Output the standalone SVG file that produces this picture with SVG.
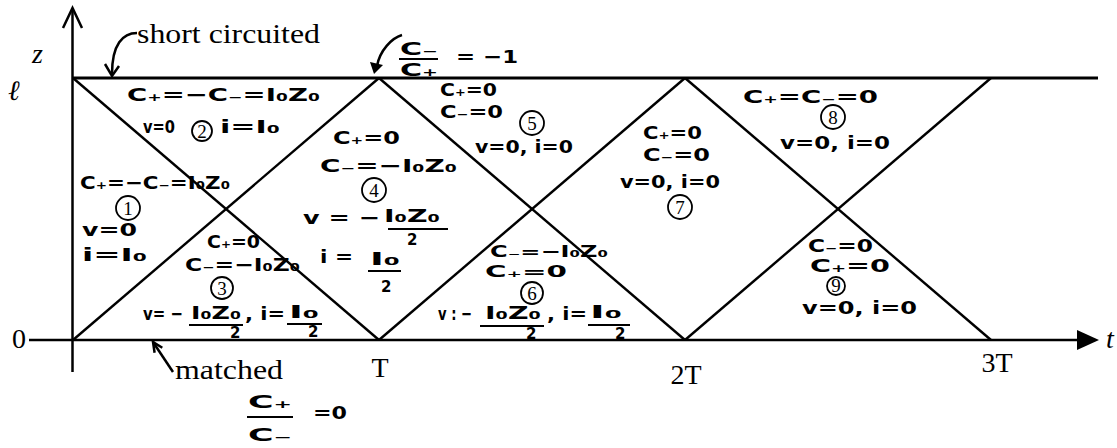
<svg xmlns="http://www.w3.org/2000/svg" width="1117" height="448" viewBox="0 0 1117 448">
<style>
.ax{stroke:#000;stroke-width:2.5;fill:none}
.top{stroke:#000;stroke-width:3.2;fill:none}
.ch{stroke:#000;stroke-width:2.4;fill:none}
.pr{font-family:"Liberation Serif","Times New Roman",serif;font-size:28px;fill:#000}
.it{font-style:italic}
.hw{font-family:"DejaVu Sans","Liberation Sans",sans-serif;font-weight:bold;font-size:18px;fill:#000}
.sm{font-size:16px}
.dn{font-size:15px}
.num{font-family:"Liberation Serif",serif;font-size:19px;fill:#000;text-anchor:middle}
.cn{fill:none;stroke:#000;stroke-width:1.8}
.fl{stroke:#000;stroke-width:2.2;fill:none}
.mid{text-anchor:middle}
</style>
<rect width="1117" height="448" fill="#fff"/>

<g id="axes">
  <path class="ax" d="M72.5,8 L72.5,372"/>
  <path class="ax" d="M63,28 L72.5,8 L82,28"/>
  <path class="top" d="M72,78 L1098,78"/>
  <path class="ax" d="M29,340 L1080,340"/>
  <path d="M1077,330 L1099,340 L1077,350 Z" fill="#000"/>
  <text class="pr it" x="32" y="63">z</text>
  <text class="pr it" x="8" y="100">ℓ</text>
  <text class="pr" x="12" y="348">0</text>
  <text class="pr it" x="1106" y="348">t</text>
  <text class="pr mid" x="380" y="377">T</text>
  <text class="pr mid" x="686" y="384">2T</text>
  <text class="pr mid" x="997" y="372">3T</text>
</g>

<g id="connectors">
  <path class="ch" d="M73,78 L379,340"/>
  <path class="ch" d="M73,340 L379,78"/>
  <path class="ch" d="M379,78 L685,340"/>
  <path class="ch" d="M379,340 L685,78"/>
  <path class="ch" d="M685,78 L991,340"/>
  <path class="ch" d="M685,340 L991,78"/>
</g>

<g id="short-circuited">
  <text class="pr" x="137" y="43" textLength="183" lengthAdjust="spacingAndGlyphs">short circuited</text>
  <path class="ax" d="M137,33 C123,33 112,44 112,74"/>
  <path class="ax" d="M105,64 L112,76 L119,66"/>
</g>

<g id="matched">
  <text class="pr" x="175" y="379" textLength="108" lengthAdjust="spacingAndGlyphs">matched</text>
  <path class="ax" d="M173,372 L153,342"/>
  <path class="ax" d="M154.6,352.8 L153,342 L162.3,347.7"/>
</g>

<g id="top-ratio">
  <path class="ax" d="M402,35 C392,38 380,50 377,66"/>
  <path d="M370,62 L374,74 L383,65 Z" fill="#000"/>
  <text class="hw" x="400" y="55" textLength="38" lengthAdjust="spacingAndGlyphs">C₋</text>
  <path class="fl" d="M399,59 L438,59"/>
  <text class="hw" x="400" y="76" textLength="38" lengthAdjust="spacingAndGlyphs">C₊</text>
  <text class="hw" x="456" y="63" font-size="22" textLength="62" lengthAdjust="spacingAndGlyphs">= −1</text>
</g>

<g id="bottom-ratio">
  <text class="hw" x="248" y="408" textLength="44" lengthAdjust="spacingAndGlyphs">C₊</text>
  <path class="fl" d="M247,417 L293,417"/>
  <text class="hw" x="248" y="441" textLength="44" lengthAdjust="spacingAndGlyphs">C₋</text>
  <text class="hw" x="313" y="419" textLength="34" lengthAdjust="spacingAndGlyphs">=0</text>
</g>

<g id="region1">
  <text class="hw" x="80" y="189" textLength="150" lengthAdjust="spacingAndGlyphs">C₊=−C₋=I₀Z₀</text>
  <circle class="cn" cx="128" cy="208" r="12"/>
  <text class="num" x="128" y="215">1</text>
  <text class="hw" x="82" y="236" textLength="55" lengthAdjust="spacingAndGlyphs">v=0</text>
  <text class="hw" x="82" y="261" textLength="65" lengthAdjust="spacingAndGlyphs">i=I₀</text>
</g>

<g id="region2">
  <text class="hw" x="127" y="101" textLength="193" lengthAdjust="spacingAndGlyphs">C₊=−C₋=I₀Z₀</text>
  <text class="hw" x="143" y="133" textLength="32" lengthAdjust="spacingAndGlyphs">v=0</text>
  <circle class="cn" cx="202" cy="131" r="10"/>
  <text class="num" x="202" y="138">2</text>
  <text class="hw" x="220" y="133" textLength="60" lengthAdjust="spacingAndGlyphs">i=I₀</text>
</g>

<g id="region3">
  <text class="hw" x="207" y="248" textLength="53" lengthAdjust="spacingAndGlyphs">C₊=0</text>
  <text class="hw" x="185" y="271" textLength="115" lengthAdjust="spacingAndGlyphs">C₋=−I₀Z₀</text>
  <circle class="cn" cx="222" cy="288" r="11"/>
  <text class="num" x="222" y="295">3</text>
  <text class="hw" x="143" y="320" textLength="40" lengthAdjust="spacingAndGlyphs">v= −</text>
  <text class="hw" x="191" y="319" textLength="50" lengthAdjust="spacingAndGlyphs">I₀Z₀</text>
  <path class="fl" d="M189,325 L243,325"/>
  <text class="hw dn" x="230" y="338">2</text>
  <text class="hw" x="245" y="320" textLength="40" lengthAdjust="spacingAndGlyphs">, i=</text>
  <text class="hw" x="289" y="318" textLength="30" lengthAdjust="spacingAndGlyphs">I₀</text>
  <path class="fl" d="M287,324 L322,324"/>
  <text class="hw dn" x="308" y="337">2</text>
</g>

<g id="region4">
  <text class="hw" x="333" y="144" textLength="67" lengthAdjust="spacingAndGlyphs">C₊=0</text>
  <text class="hw" x="320" y="172" textLength="137" lengthAdjust="spacingAndGlyphs">C₋=−I₀Z₀</text>
  <circle class="cn" cx="374" cy="190" r="12"/>
  <text class="num" x="374" y="197">4</text>
  <text class="hw" x="303" y="224" textLength="77" lengthAdjust="spacingAndGlyphs">v = −</text>
  <text class="hw" x="384" y="222" textLength="56" lengthAdjust="spacingAndGlyphs">I₀Z₀</text>
  <path class="fl" d="M388,229 L448,229"/>
  <text class="hw dn" x="407" y="245">2</text>
  <text class="hw" x="320" y="263" textLength="33" lengthAdjust="spacingAndGlyphs">i =</text>
  <text class="hw" x="370" y="265" textLength="30" lengthAdjust="spacingAndGlyphs">I₀</text>
  <path class="fl" d="M368,271 L401,271"/>
  <text class="hw dn" x="381" y="292">2</text>
</g>

<g id="region5">
  <text class="hw" x="440" y="96" textLength="57" lengthAdjust="spacingAndGlyphs">C₊=0</text>
  <text class="hw" x="440" y="118" textLength="63" lengthAdjust="spacingAndGlyphs">C₋=0</text>
  <circle class="cn" cx="532" cy="123" r="12"/>
  <text class="num" x="532" y="130">5</text>
  <text class="hw" x="475" y="153" textLength="98" lengthAdjust="spacingAndGlyphs">v=0, i=0</text>
</g>

<g id="region6">
  <text class="hw sm" x="490" y="257" textLength="118" lengthAdjust="spacingAndGlyphs">C₋=−I₀Z₀</text>
  <text class="hw sm" x="485" y="277" textLength="82" lengthAdjust="spacingAndGlyphs">C₊=0</text>
  <circle class="cn" cx="532" cy="293" r="11"/>
  <text class="num" x="532" y="300">6</text>
  <text class="hw" x="438" y="320" textLength="34" lengthAdjust="spacingAndGlyphs">v : −</text>
  <text class="hw" x="485" y="319" textLength="56" lengthAdjust="spacingAndGlyphs">I₀Z₀</text>
  <path class="fl" d="M480,326 L544,326"/>
  <text class="hw dn" x="526" y="339">2</text>
  <text class="hw" x="547" y="320" textLength="40" lengthAdjust="spacingAndGlyphs">, i=</text>
  <text class="hw" x="590" y="318" textLength="32" lengthAdjust="spacingAndGlyphs">I₀</text>
  <path class="fl" d="M588,325 L630,325"/>
  <text class="hw dn" x="615" y="339">2</text>
</g>

<g id="region7">
  <text class="hw" x="643" y="139" textLength="59" lengthAdjust="spacingAndGlyphs">C₊=0</text>
  <text class="hw" x="643" y="161" textLength="67" lengthAdjust="spacingAndGlyphs">C₋=0</text>
  <text class="hw" x="620" y="188" textLength="100" lengthAdjust="spacingAndGlyphs">v=0, i=0</text>
  <circle class="cn" cx="680" cy="207" r="12"/>
  <text class="num" x="680" y="214">7</text>
</g>

<g id="region8">
  <text class="hw" x="743" y="103" textLength="135" lengthAdjust="spacingAndGlyphs">C₊=C₋=0</text>
  <circle class="cn" cx="833" cy="117" r="12"/>
  <text class="num" x="833" y="124">8</text>
  <text class="hw" x="780" y="149" textLength="110" lengthAdjust="spacingAndGlyphs">v=0, i=0</text>
</g>

<g id="region9">
  <text class="hw" x="808" y="252" textLength="65" lengthAdjust="spacingAndGlyphs">C₋=0</text>
  <text class="hw" x="810" y="272" textLength="80" lengthAdjust="spacingAndGlyphs">C₊=0</text>
  <circle class="cn" cx="836" cy="286" r="9"/>
  <text class="num" x="836" y="292" font-size="16">9</text>
  <text class="hw" x="802" y="314" textLength="115" lengthAdjust="spacingAndGlyphs">v=0, i=0</text>
</g>
</svg>
